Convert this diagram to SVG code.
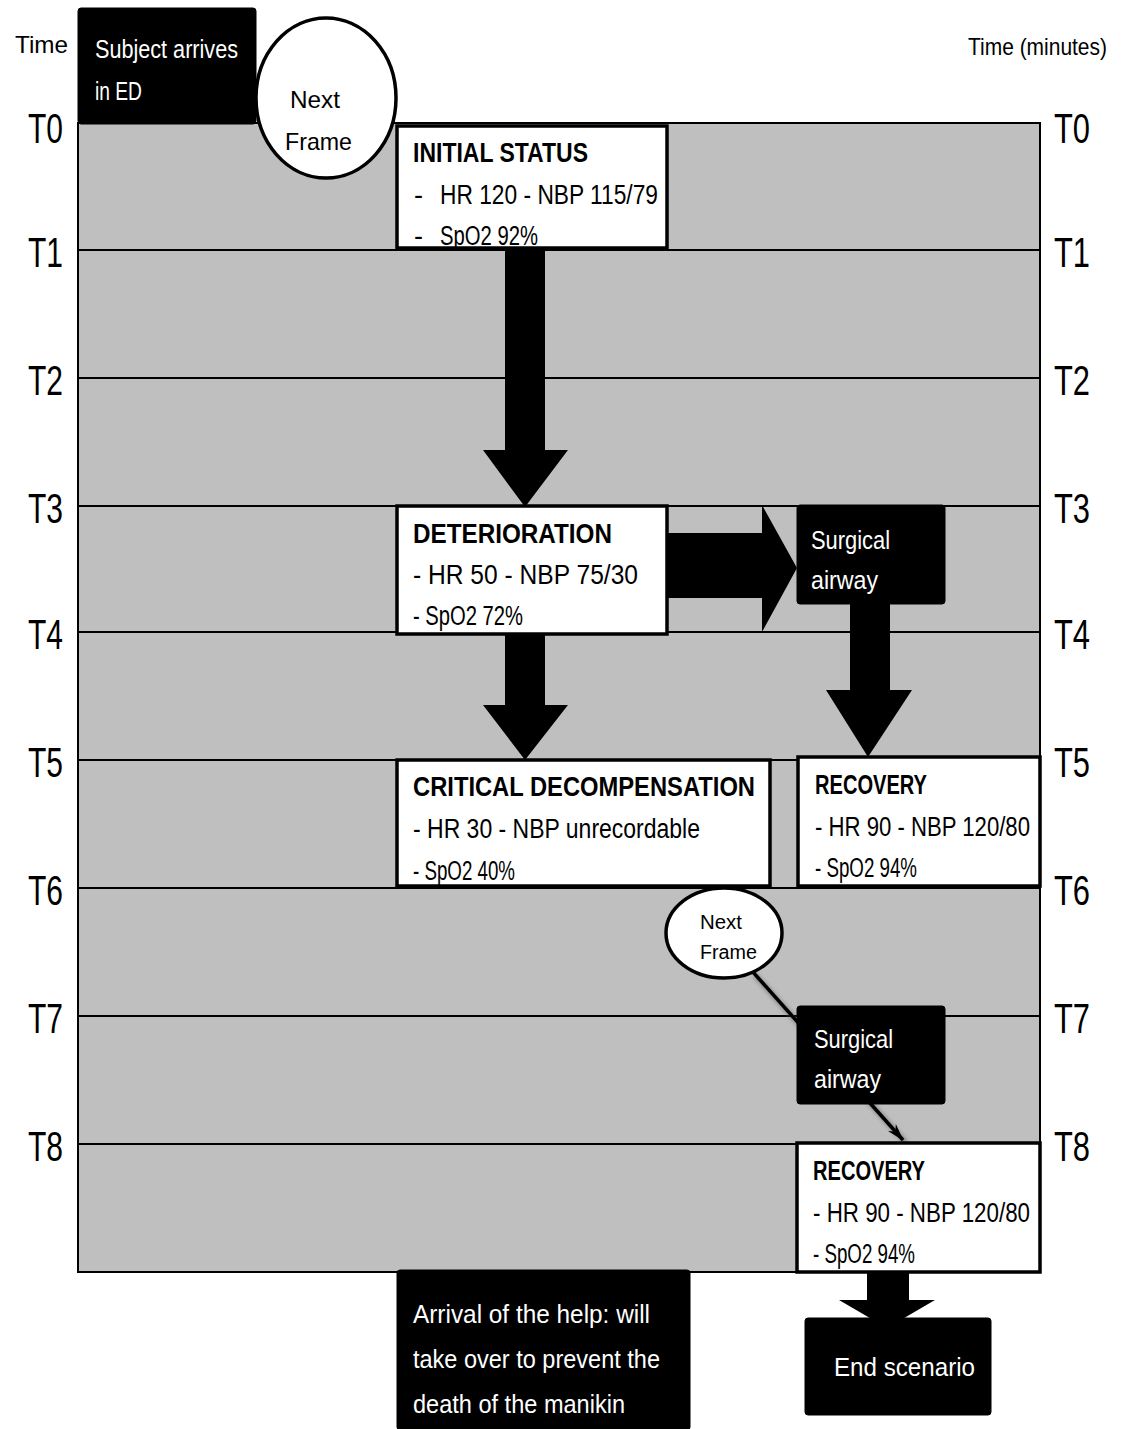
<svg xmlns="http://www.w3.org/2000/svg" width="1141" height="1429" viewBox="0 0 1141 1429">
<defs>
<style>
text{font-family:"Liberation Sans Narrow","Liberation Sans",Arial,sans-serif;}
.t{font-size:43px;fill:#000;}
.hdr{font-size:24px;fill:#000;}
.w{font-size:25px;fill:#fff;}
.b{font-size:27px;fill:#000;}
.bt{font-size:27px;font-weight:bold;fill:#000;}
.e{font-size:24px;fill:#000;}
.es{font-size:20px;fill:#000;}
.gl{stroke:#000;stroke-width:2;}
.wb{fill:#fff;stroke:#000;stroke-width:3.5;}
.bb{fill:#000;stroke:#000;stroke-width:1;}
.arr{fill:#000;}
</style>
<marker id="ah" viewBox="0 0 20 12" refX="19" refY="6" markerWidth="5" markerHeight="4" markerUnits="strokeWidth" orient="auto">
<path d="M0,0 L20,6 L0,12 L6,6 Z" fill="#000"/>
</marker>
<filter id="sh" x="-20%" y="-20%" width="140%" height="140%">
<feGaussianBlur stdDeviation="2"/>
</filter>
</defs>
<rect width="1141" height="1429" fill="#fff"/>

<g id="timeline">
<rect x="78" y="123" width="962" height="1149" fill="#bfbfbf" stroke="#000" stroke-width="2"/>
<line class="gl" x1="78" y1="250" x2="1040" y2="250"/>
<line class="gl" x1="78" y1="378" x2="1040" y2="378"/>
<line class="gl" x1="78" y1="506" x2="1040" y2="506"/>
<line class="gl" x1="78" y1="632" x2="1040" y2="632"/>
<line class="gl" x1="78" y1="760" x2="1040" y2="760"/>
<line class="gl" x1="78" y1="888" x2="1040" y2="888"/>
<line class="gl" x1="78" y1="1016" x2="1040" y2="1016"/>
<line class="gl" x1="78" y1="1144" x2="1040" y2="1144"/>
<text class="hdr" x="15" y="53" textLength="53" lengthAdjust="spacingAndGlyphs">Time</text>
<text class="hdr" x="968" y="55" textLength="139" lengthAdjust="spacingAndGlyphs">Time (minutes)</text>
<text class="t" x="28" y="143" textLength="35" lengthAdjust="spacingAndGlyphs">T0</text>
<text class="t" x="28" y="267" textLength="35" lengthAdjust="spacingAndGlyphs">T1</text>
<text class="t" x="28" y="395" textLength="35" lengthAdjust="spacingAndGlyphs">T2</text>
<text class="t" x="28" y="523" textLength="35" lengthAdjust="spacingAndGlyphs">T3</text>
<text class="t" x="28" y="649" textLength="35" lengthAdjust="spacingAndGlyphs">T4</text>
<text class="t" x="28" y="777" textLength="35" lengthAdjust="spacingAndGlyphs">T5</text>
<text class="t" x="28" y="905" textLength="35" lengthAdjust="spacingAndGlyphs">T6</text>
<text class="t" x="28" y="1033" textLength="35" lengthAdjust="spacingAndGlyphs">T7</text>
<text class="t" x="28" y="1161" textLength="35" lengthAdjust="spacingAndGlyphs">T8</text>
<text class="t" x="1054" y="143" textLength="36" lengthAdjust="spacingAndGlyphs">T0</text>
<text class="t" x="1054" y="267" textLength="36" lengthAdjust="spacingAndGlyphs">T1</text>
<text class="t" x="1054" y="395" textLength="36" lengthAdjust="spacingAndGlyphs">T2</text>
<text class="t" x="1054" y="523" textLength="36" lengthAdjust="spacingAndGlyphs">T3</text>
<text class="t" x="1054" y="649" textLength="36" lengthAdjust="spacingAndGlyphs">T4</text>
<text class="t" x="1054" y="777" textLength="36" lengthAdjust="spacingAndGlyphs">T5</text>
<text class="t" x="1054" y="905" textLength="36" lengthAdjust="spacingAndGlyphs">T6</text>
<text class="t" x="1054" y="1033" textLength="36" lengthAdjust="spacingAndGlyphs">T7</text>
<text class="t" x="1054" y="1161" textLength="36" lengthAdjust="spacingAndGlyphs">T8</text>
</g>

<g id="connectors">
<polygon class="arr" points="505,246 545,246 545,450 568,450 525,507 483,450 505,450"/>
<polygon class="arr" points="505,632 545,632 545,705 568,705 525,760 483,705 505,705"/>
<polygon class="arr" points="665,533 762,533 762,505 797,568 762,632 762,598 665,598"/>
<polygon class="arr" points="850,600 890,600 890,690 912,690 868,757 826,690 850,690"/>
<polygon class="arr" points="867,1270 909,1270 909,1300 935,1300 887,1328 839,1300 867,1300"/>
<line x1="755" y1="975" x2="906" y2="1143" stroke="#555" stroke-width="4" filter="url(#sh)" opacity="0.7"/>
<line x1="752" y1="971" x2="903" y2="1140" stroke="#000" stroke-width="3.5" marker-end="url(#ah)"/>
</g>

<g id="subject-arrives">
<rect class="bb" x="78" y="8" width="178" height="116" rx="3"/>
<text class="w" x="95" y="58" textLength="143" lengthAdjust="spacingAndGlyphs">Subject arrives</text>
<text class="w" x="95" y="100" textLength="47" lengthAdjust="spacingAndGlyphs">in ED</text>
</g>

<g id="next-frame-1">
<ellipse cx="326" cy="98" rx="70" ry="80" fill="#fff" stroke="#000" stroke-width="3.5"/>
<text class="e" x="290" y="108" textLength="50" lengthAdjust="spacingAndGlyphs">Next</text>
<text class="e" x="285" y="150" textLength="67" lengthAdjust="spacingAndGlyphs">Frame</text>
</g>

<g id="initial-status">
<rect class="wb" x="397" y="126" width="270" height="122"/>
<text class="bt" x="413" y="162" textLength="175" lengthAdjust="spacingAndGlyphs">INITIAL STATUS</text>
<text class="b" x="414" y="204">-</text>
<text class="b" x="440" y="204" textLength="218" lengthAdjust="spacingAndGlyphs">HR 120 - NBP 115/79</text>
<text class="b" x="414" y="245">-</text>
<text class="b" x="440" y="245" textLength="98" lengthAdjust="spacingAndGlyphs">SpO2 92%</text>
</g>

<g id="deterioration">
<rect class="wb" x="397" y="506" width="270" height="128"/>
<text class="bt" x="413" y="543" textLength="199" lengthAdjust="spacingAndGlyphs">DETERIORATION</text>
<text class="b" x="413" y="584" textLength="225" lengthAdjust="spacingAndGlyphs">- HR 50 - NBP 75/30</text>
<text class="b" x="413" y="625" textLength="110" lengthAdjust="spacingAndGlyphs">- SpO2 72%</text>
</g>

<g id="surgical-airway-1">
<rect class="bb" x="797" y="505" width="148" height="99" rx="3"/>
<text class="w" x="811" y="549" textLength="79" lengthAdjust="spacingAndGlyphs">Surgical</text>
<text class="w" x="811" y="589" textLength="67" lengthAdjust="spacingAndGlyphs">airway</text>
</g>

<g id="critical-decompensation">
<rect class="wb" x="397" y="760" width="373" height="126"/>
<text class="bt" x="413" y="796" textLength="342" lengthAdjust="spacingAndGlyphs">CRITICAL DECOMPENSATION</text>
<text class="b" x="413" y="838" textLength="287" lengthAdjust="spacingAndGlyphs">- HR 30 - NBP unrecordable</text>
<text class="b" x="413" y="880" textLength="102" lengthAdjust="spacingAndGlyphs">- SpO2 40%</text>
</g>

<g id="recovery-1">
<rect class="wb" x="798" y="757" width="242" height="129"/>
<text class="bt" x="815" y="794" textLength="112" lengthAdjust="spacingAndGlyphs">RECOVERY</text>
<text class="b" x="815" y="836" textLength="215" lengthAdjust="spacingAndGlyphs">- HR 90 - NBP 120/80</text>
<text class="b" x="815" y="877" textLength="102" lengthAdjust="spacingAndGlyphs">- SpO2 94%</text>
</g>

<g id="next-frame-2">
<ellipse cx="724" cy="933" rx="58" ry="45" fill="#fff" stroke="#000" stroke-width="3.5"/>
<text class="es" x="700" y="929" textLength="42" lengthAdjust="spacingAndGlyphs">Next</text>
<text class="es" x="700" y="959" textLength="57" lengthAdjust="spacingAndGlyphs">Frame</text>
</g>

<g id="surgical-airway-2">
<rect class="bb" x="797" y="1006" width="148" height="98" rx="3"/>
<text class="w" x="814" y="1048" textLength="79" lengthAdjust="spacingAndGlyphs">Surgical</text>
<text class="w" x="814" y="1088" textLength="67" lengthAdjust="spacingAndGlyphs">airway</text>
</g>

<g id="recovery-2">
<rect class="wb" x="797" y="1143" width="243" height="129"/>
<text class="bt" x="813" y="1180" textLength="112" lengthAdjust="spacingAndGlyphs">RECOVERY</text>
<text class="b" x="813" y="1222" textLength="217" lengthAdjust="spacingAndGlyphs">- HR 90 - NBP 120/80</text>
<text class="b" x="813" y="1263" textLength="102" lengthAdjust="spacingAndGlyphs">- SpO2 94%</text>
</g>

<g id="arrival-of-help">
<rect class="bb" x="397" y="1270" width="293" height="160" rx="3"/>
<text class="w" x="413" y="1323" textLength="237" lengthAdjust="spacingAndGlyphs">Arrival of the help: will</text>
<text class="w" x="413" y="1368" textLength="247" lengthAdjust="spacingAndGlyphs">take over to prevent the</text>
<text class="w" x="413" y="1413" textLength="212" lengthAdjust="spacingAndGlyphs">death of the manikin</text>
</g>

<g id="end-scenario">
<rect class="bb" x="805" y="1318" width="186" height="97" rx="3"/>
<text class="w" x="834" y="1376" textLength="141" lengthAdjust="spacingAndGlyphs">End scenario</text>
</g>
</svg>
